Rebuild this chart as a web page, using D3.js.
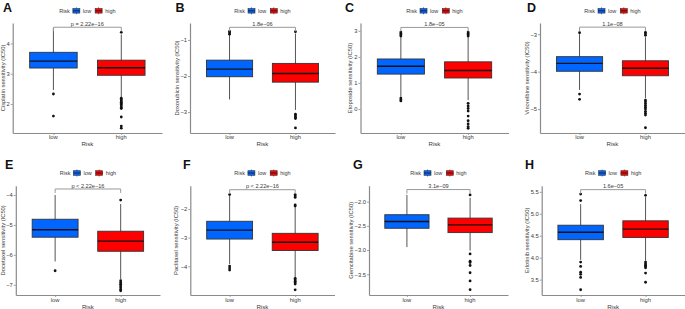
<!DOCTYPE html>
<html>
<head>
<meta charset="utf-8">
<script src="https://cdn.jsdelivr.net/npm/d3@7"></script>
<style>
  body { margin: 0; background: #fff; }
  svg { font-family: "Liberation Sans", Arial, sans-serif; }
</style>
</head>
<body>
<svg id="chart" width="685" height="309"></svg>
<script>
// ---- data ----
var panelIds = ["A", "B", "C", "D", "E", "F", "G", "H"];
var drugNames = ["Cisplatin", "Doxorubicin", "Etoposide", "Vinorelbine",
  "Docetaxel", "Paclitaxel", "Gemcitabine", "Erlotinib"];
var pLabels = ["p = 2.22e\u221216", "1.8e\u221206", "1.8e\u221205", "1.1e\u221208",
  "p < 2.22e\u221216", "p < 2.22e\u221216", "3.1e\u221209", "1.6e\u221205"];
var riskGroups = ["low", "high"];
var riskColors = ["#0066ff", "#ff0000"];

// [lower whisker, Q1, median, Q3, upper whisker]
var lowBox = [
  [2.46, 3.19, 3.42, 3.71, 4.51],
  [-2.65, -2.02, -1.81, -1.56, -0.86],
  [0.47, 1.34, 1.64, 1.92, 2.76],
  [-4.49, -3.99, -3.78, -3.60, -3.00],
  [-6.22, -5.41, -5.16, -4.81, -4.00],
  [-3.92, -3.05, -2.74, -2.43, -1.55],
  [-2.94, -2.55, -2.41, -2.27, -1.86],
  [3.95, 4.41, 4.58, 4.74, 5.22]
];
var highBox = [
  [2.23, 2.95, 3.20, 3.45, 4.30],
  [-2.94, -2.17, -1.93, -1.65, -0.82],
  [0.34, 1.19, 1.48, 1.81, 2.76],
  [-4.71, -4.11, -3.91, -3.71, -3.08],
  [-6.81, -5.88, -5.54, -5.21, -4.30],
  [-4.38, -3.45, -3.16, -2.85, -1.94],
  [-3.01, -2.64, -2.48, -2.34, -1.92],
  [3.93, 4.46, 4.65, 4.84, 5.38]
];
var lowOutliers = [
  [2.33, 1.60],
  [-0.76, -0.80, -0.84],
  [2.80, 2.85, 2.90, 2.95, 0.42, 0.36, 0.31],
  [-2.96, -4.60, -4.74],
  [-6.53],
  [-1.50, -3.99, -4.06, -4.13],
  [],
  [5.30, 5.45, 3.90, 3.80, 3.67, 3.62, 3.55, 3.27]
];
var highOutliers = [
  [4.37, 2.19, 2.14, 2.10, 2.06, 2.02, 1.98, 1.93, 1.88, 1.85, 1.57, 1.27, 1.20],
  [-0.77, -3.06, -3.10, -3.14, -3.18, -3.44],
  [2.80, 2.85, 2.90, 2.95, 0.22, 0.12, 0.02, -0.08, -0.27, -0.45, -0.57, -0.68, -0.74],
  [-2.95, -2.99, -3.03, -4.76, -4.80, -4.85, -4.90, -4.95, -5.00, -5.06, -5.11, -5.16, -5.50],
  [-4.17, -6.86, -6.92, -6.98, -7.04, -7.10, -7.16, -7.20],
  [-1.50, -1.55, -1.60, -1.86, -1.90, -4.42, -4.47, -4.52, -4.57, -4.62, -4.82],
  [-1.86, -3.08, -3.23, -3.26, -3.32, -3.47, -3.64, -3.82],
  [5.42, 3.90, 3.86, 3.83, 3.80, 3.77, 3.65, 3.44]
];
var bracketValues = [4.54, -0.65, 3.13, -2.81, -3.80, -1.33, -1.75, 5.55];
var yTickValues = [
  [2, 3, 4], [-3, -2, -1], [0, 1, 2, 3], [-5, -4, -3],
  [-7, -6, -5, -4], [-4, -3, -2], [-3.5, -3.0, -2.5, -2.0], [3.5, 4.0, 4.5, 5.0, 5.5]
];
var yTickFormats = ["d", "d", "d", "d", "d", "d", ".1f", ".1f"];
var yLimits = [
  [1.04, 4.68], [-3.58, -0.53], [-0.92, 3.30], [-5.64, -2.70],
  [-7.34, -3.69], [-5.00, -1.19], [-3.93, -1.67], [3.15, 5.64]
];

// ---- layout ----
var panelLayout = [ //plot left / right edge, panel letter x, y title centre x
  { left: 12.7, right: 162, labelX: 3, titleX: 3.3 },
  { left: 190, right: 335, labelX: 175.5, titleX: 176.7 },
  { left: 360.5, right: 508.5, labelX: 345, titleX: 350 },
  { left: 540, right: 685, labelX: 527, titleX: 527 },
  { left: 15.8, right: 160, labelX: 5, titleX: 2.7 },
  { left: 190.3, right: 334.5, labelX: 183, titleX: 176 },
  { left: 369, right: 508, labelX: 353, titleX: 351 },
  { left: 541.7, right: 684.5, labelX: 525, titleX: 527 }
];
var rowLayout = [
  { top: 23, bottom: 133, labelY: 11.8, legendY: 10.8, xLabelY: 138.8, xTitleY: 146.2 },
  { top: 185.7, bottom: 295, labelY: 169, legendY: 173, xLabelY: 301.8, xTitleY: 308.8 }
];
var fontSize = 5.8;
var textColor = "#3a3a3a";
var axisColor = "#8a8a8a";

var svg = d3.select("#chart");

function drawPanel(i) {
  var L = panelLayout[i];
  var R = rowLayout[Math.floor(i / 4)];
  var g = svg.append("g");

  var x = d3.scalePoint().domain(riskGroups).range([L.left, L.right]).padding(0.6);
  var y = d3.scaleLinear().domain(yLimits[i]).range([R.bottom, R.top]);
  var bw = x.step() * 0.7;

  //panel letter
  g.append("text")
    .text(panelIds[i])
    .attr("x", L.labelX)
    .attr("y", R.labelY)
    .attr("font-size", 12.5)
    .attr("font-weight", "bold")
    .attr("fill", "#111");

  //axes
  var yAxis = g.append("g")
    .attr("transform", "translate(" + L.left + ",0)")
    .call(d3.axisLeft(y).tickValues(yTickValues[i]).tickFormat(d3.format(yTickFormats[i]))
      .tickSize(2).tickSizeOuter(0).tickPadding(1));
  var xAxis = g.append("g")
    .attr("transform", "translate(0," + R.bottom + ")")
    .call(d3.axisBottom(x).tickSize(2).tickSizeOuter(0).tickPadding(1).tickFormat(""));
  [yAxis, xAxis].forEach(function (a) {
    a.select(".domain").attr("stroke", axisColor).attr("stroke-width", 1.2);
    a.selectAll(".tick line").attr("stroke", axisColor).attr("stroke-width", 0.8);
    a.selectAll(".tick text").attr("fill", textColor).attr("font-size", fontSize)
      .attr("font-family", "Liberation Sans, Arial, sans-serif");
  });

  riskGroups.forEach(function (grp) {
    g.append("text")
      .text(grp)
      .attr("x", x(grp))
      .attr("y", R.xLabelY)
      .attr("text-anchor", "middle")
      .attr("font-size", fontSize)
      .attr("fill", textColor);
  });

  g.append("text")
    .text("Risk")
    .attr("x", (L.left + L.right) / 2)
    .attr("y", R.xTitleY)
    .attr("text-anchor", "middle")
    .attr("font-size", fontSize + 0.3)
    .attr("fill", textColor);

  g.append("text")
    .text(drugNames[i] + " sensitivity (IC50)")
    .attr("transform", "translate(" + L.titleX + "," + (R.top + R.bottom) / 2 + ") rotate(-90)")
    .attr("dy", "0.35em")
    .attr("text-anchor", "middle")
    .attr("font-size", fontSize)
    .attr("fill", textColor);

  //boxes
  var boxes = [lowBox[i], highBox[i]];
  var outs = [lowOutliers[i], highOutliers[i]];
  riskGroups.forEach(function (grp, k) {
    var s = boxes[k];
    var cx = x(grp);
    g.append("line")
      .attr("x1", cx).attr("x2", cx)
      .attr("y1", y(s[0])).attr("y2", y(s[4]))
      .attr("stroke", "#555").attr("stroke-width", 1);
    g.append("rect")
      .attr("x", cx - bw / 2)
      .attr("y", y(s[3]))
      .attr("width", bw)
      .attr("height", y(s[1]) - y(s[3]))
      .attr("fill", riskColors[k])
      .attr("stroke", "#333")
      .attr("stroke-width", 0.9);
    g.append("line")
      .attr("x1", cx - bw / 2).attr("x2", cx + bw / 2)
      .attr("y1", y(s[2])).attr("y2", y(s[2]))
      .attr("stroke", "#111").attr("stroke-width", 1.4);
    g.selectAll(null)
      .data(outs[k])
      .enter()
      .append("circle")
      .attr("cx", cx)
      .attr("cy", function (d) { return y(d); })
      .attr("r", 1.4)
      .attr("fill", "#111");
  });

  //p value bracket
  var by = y(bracketValues[i]);
  g.append("path")
    .attr("d", "M" + x("low") + "," + (by + 4) + "V" + by + "H" + x("high") + "V" + (by + 4))
    .attr("fill", "none")
    .attr("stroke", "#999")
    .attr("stroke-width", 1);
  g.append("text")
    .text(pLabels[i])
    .attr("x", (x("low") + x("high")) / 2)
    .attr("y", by - 1.3)
    .attr("text-anchor", "middle")
    .attr("font-size", fontSize - 0.2)
    .attr("fill", textColor);

  //legend, centred above plot
  var leg = g.append("g");
  var pos = 0;
  var t = leg.append("text").text("Risk").attr("x", pos).attr("y", 2)
    .attr("font-size", fontSize - 0.3).attr("fill", textColor);
  pos += t.node().getComputedTextLength() + 3;
  riskGroups.forEach(function (grp, k) {
    leg.append("line")
      .attr("x1", pos + 3.5).attr("x2", pos + 3.5).attr("y1", -3.5).attr("y2", 3.5)
      .attr("stroke", "#555").attr("stroke-width", 0.8);
    leg.append("rect")
      .attr("x", pos).attr("y", -2.3).attr("width", 7).attr("height", 4.6)
      .attr("fill", riskColors[k]).attr("stroke", "#333").attr("stroke-width", 0.6);
    leg.append("line")
      .attr("x1", pos).attr("x2", pos + 7).attr("y1", 0).attr("y2", 0)
      .attr("stroke", "#111").attr("stroke-width", 0.7);
    pos += 10;
    var lt = leg.append("text").text(grp).attr("x", pos).attr("y", 2)
      .attr("font-size", fontSize - 0.3).attr("fill", textColor);
    pos += lt.node().getComputedTextLength() + 4;
  });
  pos -= 4;
  leg.attr("transform", "translate(" + ((L.left + L.right) / 2 - pos / 2) + "," + R.legendY + ")");
}

d3.range(panelIds.length).forEach(drawPanel);
</script>
</body>
</html>
